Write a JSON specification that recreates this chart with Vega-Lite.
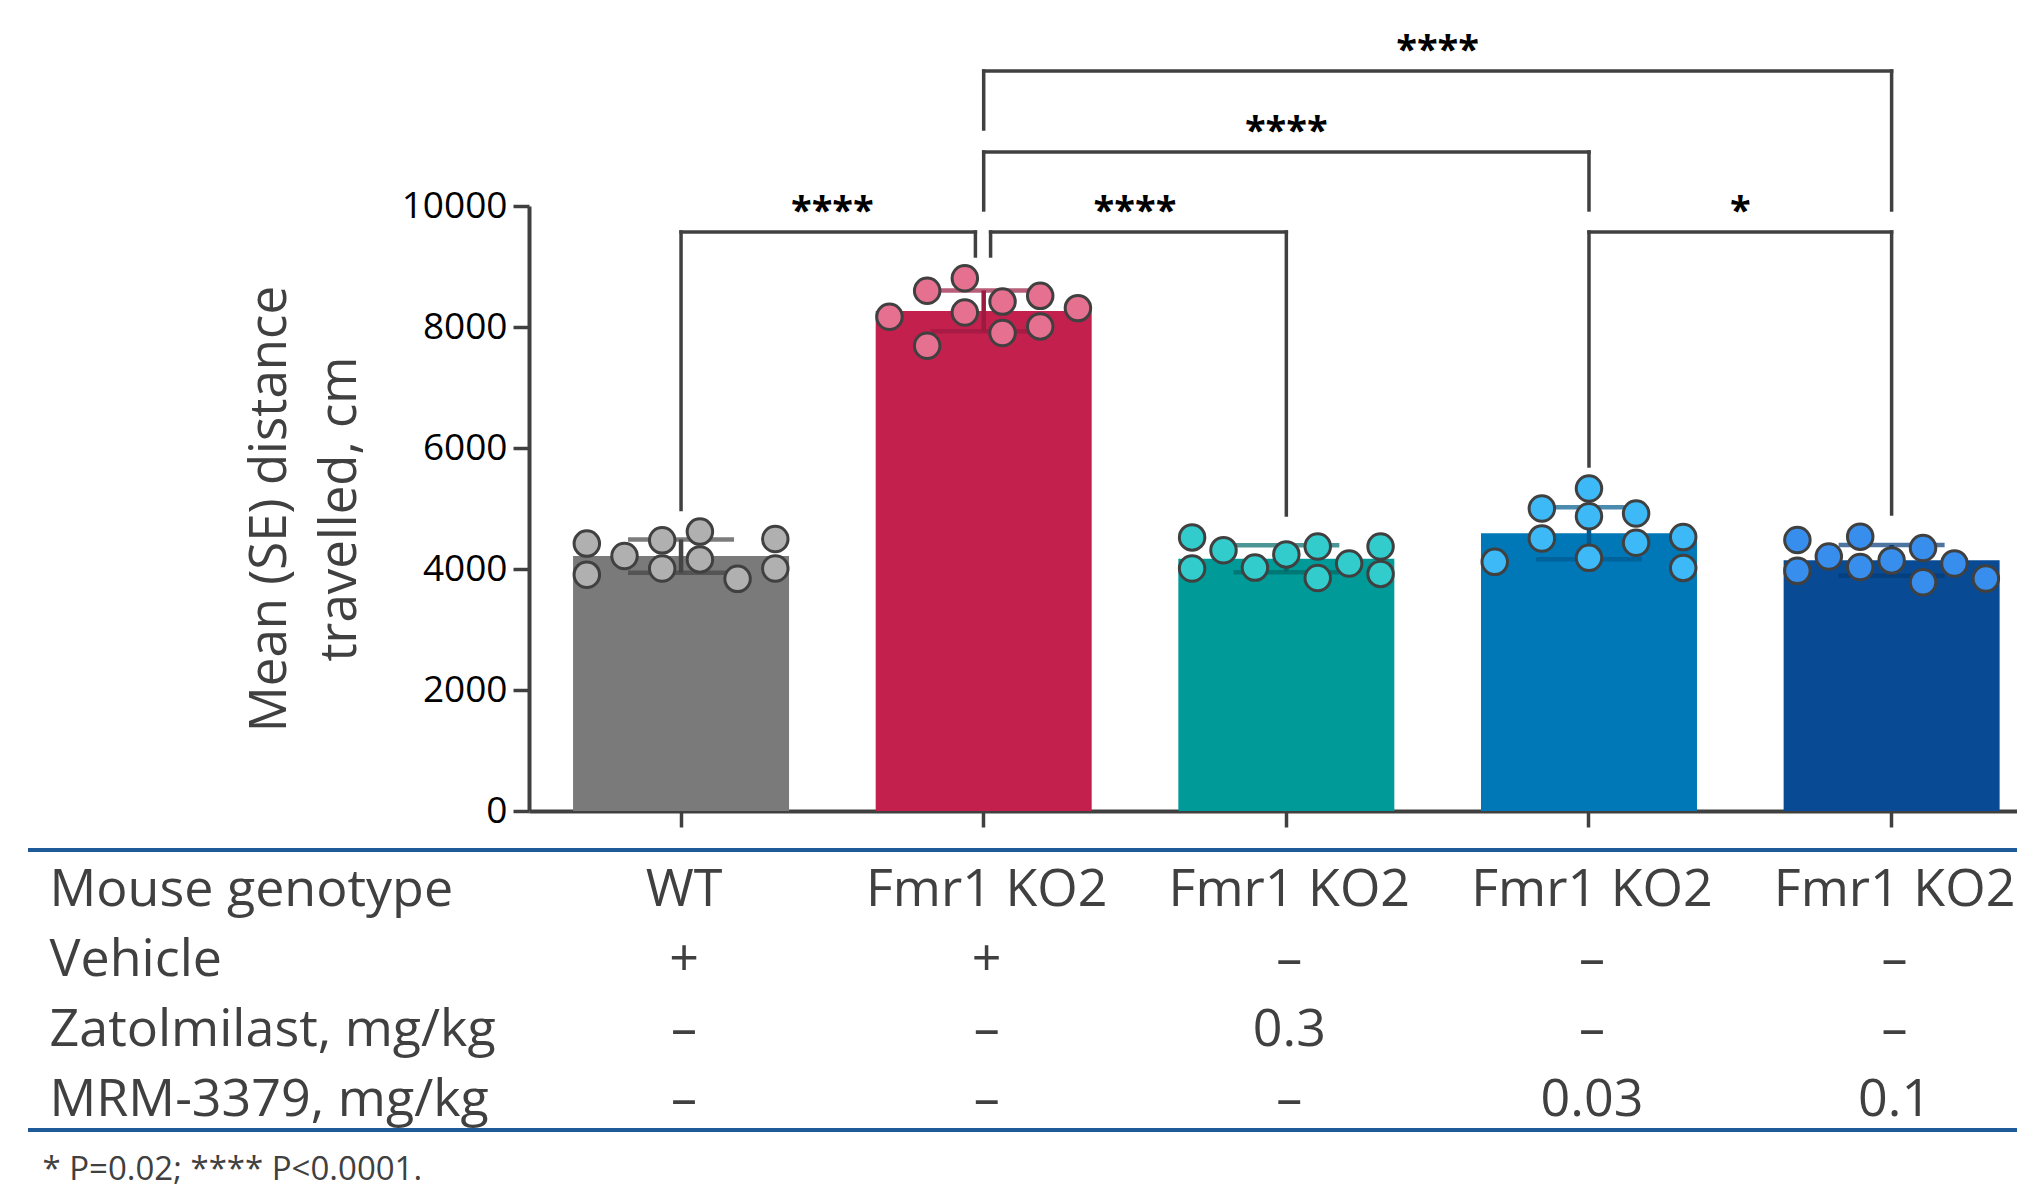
{
  "$schema": "https://vega.github.io/schema/vega-lite/v6.json",
  "width": 1989,
  "height": 605,
  "autosize": {"type": "none"},
  "padding": {"left": 28, "top": 206, "right": 0, "bottom": 384},
  "background": "white",
  "config": {"font": "Open Sans", "view": {"stroke": null}, "axis": {"grid": false}},
  "datasets": {
    "mice": [
      {"group": "WT vehicle", "distance": 4420, "jitter": -0.3114},
      {"group": "WT vehicle", "distance": 3906, "jitter": -0.3114},
      {"group": "WT vehicle", "distance": 4215, "jitter": -0.1868},
      {"group": "WT vehicle", "distance": 4474, "jitter": -0.0623},
      {"group": "WT vehicle", "distance": 4008, "jitter": -0.0623},
      {"group": "WT vehicle", "distance": 4618, "jitter": 0.0623},
      {"group": "WT vehicle", "distance": 4159, "jitter": 0.0623},
      {"group": "WT vehicle", "distance": 3838, "jitter": 0.1868},
      {"group": "WT vehicle", "distance": 4496, "jitter": 0.3114},
      {"group": "WT vehicle", "distance": 4008, "jitter": 0.3114},
      {"group": "KO2 vehicle", "distance": 8170, "jitter": -0.3114},
      {"group": "KO2 vehicle", "distance": 8600, "jitter": -0.1868},
      {"group": "KO2 vehicle", "distance": 7690, "jitter": -0.1868},
      {"group": "KO2 vehicle", "distance": 8805, "jitter": -0.0623},
      {"group": "KO2 vehicle", "distance": 8240, "jitter": -0.0623},
      {"group": "KO2 vehicle", "distance": 8420, "jitter": 0.0623},
      {"group": "KO2 vehicle", "distance": 7900, "jitter": 0.0623},
      {"group": "KO2 vehicle", "distance": 8515, "jitter": 0.1868},
      {"group": "KO2 vehicle", "distance": 8010, "jitter": 0.1868},
      {"group": "KO2 vehicle", "distance": 8312, "jitter": 0.3114},
      {"group": "KO2 zatolmilast 0.3", "distance": 4522, "jitter": -0.3114},
      {"group": "KO2 zatolmilast 0.3", "distance": 4008, "jitter": -0.3114},
      {"group": "KO2 zatolmilast 0.3", "distance": 4311, "jitter": -0.2076},
      {"group": "KO2 zatolmilast 0.3", "distance": 4023, "jitter": -0.1038},
      {"group": "KO2 zatolmilast 0.3", "distance": 4241, "jitter": 0},
      {"group": "KO2 zatolmilast 0.3", "distance": 4372, "jitter": 0.1038},
      {"group": "KO2 zatolmilast 0.3", "distance": 3851, "jitter": 0.1038},
      {"group": "KO2 zatolmilast 0.3", "distance": 4091, "jitter": 0.2076},
      {"group": "KO2 zatolmilast 0.3", "distance": 4372, "jitter": 0.3114},
      {"group": "KO2 zatolmilast 0.3", "distance": 3919, "jitter": 0.3114},
      {"group": "KO2 MRM-3379 0.03", "distance": 4118, "jitter": -0.3114},
      {"group": "KO2 MRM-3379 0.03", "distance": 5000, "jitter": -0.1557},
      {"group": "KO2 MRM-3379 0.03", "distance": 4505, "jitter": -0.1557},
      {"group": "KO2 MRM-3379 0.03", "distance": 5330, "jitter": 0},
      {"group": "KO2 MRM-3379 0.03", "distance": 4872, "jitter": 0},
      {"group": "KO2 MRM-3379 0.03", "distance": 4184, "jitter": 0},
      {"group": "KO2 MRM-3379 0.03", "distance": 4917, "jitter": 0.1557},
      {"group": "KO2 MRM-3379 0.03", "distance": 4434, "jitter": 0.1557},
      {"group": "KO2 MRM-3379 0.03", "distance": 4528, "jitter": 0.3114},
      {"group": "KO2 MRM-3379 0.03", "distance": 4018, "jitter": 0.3114},
      {"group": "KO2 MRM-3379 0.1", "distance": 4480, "jitter": -0.3114},
      {"group": "KO2 MRM-3379 0.1", "distance": 3970, "jitter": -0.3114},
      {"group": "KO2 MRM-3379 0.1", "distance": 4206, "jitter": -0.2076},
      {"group": "KO2 MRM-3379 0.1", "distance": 4535, "jitter": -0.1038},
      {"group": "KO2 MRM-3379 0.1", "distance": 4033, "jitter": -0.1038},
      {"group": "KO2 MRM-3379 0.1", "distance": 4142, "jitter": 0},
      {"group": "KO2 MRM-3379 0.1", "distance": 4347, "jitter": 0.1038},
      {"group": "KO2 MRM-3379 0.1", "distance": 3781, "jitter": 0.1038},
      {"group": "KO2 MRM-3379 0.1", "distance": 4092, "jitter": 0.2076},
      {"group": "KO2 MRM-3379 0.1", "distance": 3842, "jitter": 0.3114}
    ],
    "brackets": [
      {"from": "WT vehicle", "to": "KO2 vehicle", "top": 9570, "lb": 4982, "rb": 9174, "stars": "****", "mid": 0.5, "lo": 0, "ro": -0.0274, "ha": "KO2 vehicle", "hb": "WT vehicle", "ho": -0.0274},
      {"from": "KO2 vehicle", "to": "KO2 zatolmilast 0.3", "top": 9570, "lb": 9174, "rb": 4893, "stars": "****", "mid": 0.5, "lo": 0.0228, "ro": 0, "ha": "KO2 vehicle", "hb": "KO2 zatolmilast 0.3", "ho": 0.0228},
      {"from": "KO2 vehicle", "to": "KO2 MRM-3379 0.03", "top": 10893, "lb": 9935, "rb": 9935, "stars": "****", "mid": 1, "lo": 0, "ro": 0, "ha": "KO2 vehicle", "hb": "KO2 MRM-3379 0.03", "ho": 0},
      {"from": "KO2 vehicle", "to": "KO2 MRM-3379 0.1", "top": 12231, "lb": 11273, "rb": 9935, "stars": "****", "mid": 1.5, "lo": 0, "ro": 0, "ha": "KO2 vehicle", "hb": "KO2 MRM-3379 0.1", "ho": 0},
      {"from": "KO2 MRM-3379 0.03", "to": "KO2 MRM-3379 0.1", "top": 9570, "lb": 5703, "rb": 4909, "stars": "*", "mid": 0.5, "lo": 0, "ro": 0, "ha": "KO2 MRM-3379 0.03", "hb": "KO2 MRM-3379 0.1", "ho": 0}
    ],
    "table": [
      {"group": "WT vehicle", "row": "Mouse genotype", "cell": "WT"},
      {"group": "KO2 vehicle", "row": "Mouse genotype", "cell": "Fmr1 KO2"},
      {"group": "KO2 zatolmilast 0.3", "row": "Mouse genotype", "cell": "Fmr1 KO2"},
      {"group": "KO2 MRM-3379 0.03", "row": "Mouse genotype", "cell": "Fmr1 KO2"},
      {"group": "KO2 MRM-3379 0.1", "row": "Mouse genotype", "cell": "Fmr1 KO2"},
      {"group": "WT vehicle", "row": "Vehicle", "cell": "+"},
      {"group": "KO2 vehicle", "row": "Vehicle", "cell": "+"},
      {"group": "KO2 zatolmilast 0.3", "row": "Vehicle", "cell": "–"},
      {"group": "KO2 MRM-3379 0.03", "row": "Vehicle", "cell": "–"},
      {"group": "KO2 MRM-3379 0.1", "row": "Vehicle", "cell": "–"},
      {"group": "WT vehicle", "row": "Zatolmilast, mg/kg", "cell": "–"},
      {"group": "KO2 vehicle", "row": "Zatolmilast, mg/kg", "cell": "–"},
      {"group": "KO2 zatolmilast 0.3", "row": "Zatolmilast, mg/kg", "cell": "0.3"},
      {"group": "KO2 MRM-3379 0.03", "row": "Zatolmilast, mg/kg", "cell": "–"},
      {"group": "KO2 MRM-3379 0.1", "row": "Zatolmilast, mg/kg", "cell": "–"},
      {"group": "WT vehicle", "row": "MRM-3379, mg/kg", "cell": "–"},
      {"group": "KO2 vehicle", "row": "MRM-3379, mg/kg", "cell": "–"},
      {"group": "KO2 zatolmilast 0.3", "row": "MRM-3379, mg/kg", "cell": "–"},
      {"group": "KO2 MRM-3379 0.03", "row": "MRM-3379, mg/kg", "cell": "0.03"},
      {"group": "KO2 MRM-3379 0.1", "row": "MRM-3379, mg/kg", "cell": "0.1"}
    ]
  },
  "layer": [
    {
      "layer": [
        {
          "data": {"name": "mice"},
          "layer": [
            {
              "mark": {"type": "bar"},
              "encoding": {
                "x": {"field": "group", "type": "nominal", "scale": {"type": "band", "domain": ["WT vehicle", "KO2 vehicle", "KO2 zatolmilast 0.3", "KO2 MRM-3379 0.03", "KO2 MRM-3379 0.1"], "paddingInner": 0.2863, "paddingOuter": 0.9292, "align": 0.9691},
                  "axis": {"title": "* P=0.02; **** P<0.0001.", "labels": false, "domainColor": "#404040", "domainWidth": 4, "domainDash": [1488, 501], "domainDashOffset": 1488, "tickColor": "#404040", "tickWidth": 3.5, "tickSize": 16, "titleFontSize": 33, "titleFontWeight": "normal", "titleColor": "#404040", "titleAnchor": "start", "titleAlign": "left", "titleBaseline": "alphabetic", "titleX": 14, "titleY": 368}},
                "y": {"field": "distance", "type": "quantitative", "aggregate": "mean", "title": ["Mean (SE) distance", "travelled, cm"], "scale": {"domain": [0, 10000], "nice": false, "zero": true},
                  "axis": {"values": [0, 2000, 4000, 6000, 8000, 10000], "format": "d", "offset": -501, "domainColor": "#404040", "domainWidth": 4, "tickColor": "#404040", "tickWidth": 3.5, "tickSize": 16, "labelFontSize": 37, "labelColor": "#000000", "labelPadding": 6, "titleFontSize": 51, "titleFontWeight": "normal", "titleColor": "#404040", "titleLineHeight": 70, "titleAngle": -90, "titleAlign": "center", "titleBaseline": "alphabetic", "titleX": -244, "titleY": 302.5}},
                "color": {"field": "group", "type": "nominal", "scale": {"domain": ["WT vehicle", "KO2 vehicle", "KO2 zatolmilast 0.3", "KO2 MRM-3379 0.03", "KO2 MRM-3379 0.1"], "range": ["#7a7a7a", "#c4204e", "#009b98", "#0077b6", "#084a94"]}, "legend": null}
              }
            },
            {
              "mark": {"type": "errorbar", "extent": "stdev", "ticks": true, "size": 106, "thickness": 4.5},
              "encoding": {
                "x": {"field": "group", "type": "nominal"},
                "y": {"field": "distance", "type": "quantitative", "title": ["Mean (SE) distance", "travelled, cm"]},
                "color": {"field": "group", "type": "nominal", "scale": {"domain": ["WT vehicle", "KO2 vehicle", "KO2 zatolmilast 0.3", "KO2 MRM-3379 0.03", "KO2 MRM-3379 0.1"], "range": ["#444444", "#9b1a40", "#006b68", "#005a8f", "#033a78"]}, "legend": null}
              }
            },
            {
              "mark": {"type": "point", "filled": true, "size": 650, "stroke": "#404040", "strokeWidth": 3, "opacity": 1},
              "encoding": {
                "x": {"field": "group", "type": "nominal"},
                "xOffset": {"field": "jitter", "type": "quantitative", "scale": {"domain": [-0.3569, 0.3569], "nice": false, "zero": false}},
                "y": {"field": "distance", "type": "quantitative", "title": ["Mean (SE) distance", "travelled, cm"]},
                "fill": {"field": "group", "type": "nominal", "scale": {"domain": ["WT vehicle", "KO2 vehicle", "KO2 zatolmilast 0.3", "KO2 MRM-3379 0.03", "KO2 MRM-3379 0.1"], "range": ["#b0b0b0", "#e5708f", "#33cccc", "#3db9f7", "#388eed"]}, "legend": null}
              }
            }
          ],
          "resolve": {"scale": {"color": "independent", "xOffset": "independent"}}
        },
        {
          "data": {"name": "brackets"},
          "layer": [
            {
              "mark": {"type": "rule", "color": "#404040", "strokeWidth": 3.5, "strokeCap": "square"},
              "encoding": {
                "x": {"field": "ha", "type": "nominal"},
                "x2": {"field": "hb"},
                "xOffset": {"field": "ho", "type": "quantitative", "scale": {"domain": [-0.3569, 0.3569], "nice": false, "zero": false}},
                "y": {"field": "top", "type": "quantitative", "title": ["Mean (SE) distance", "travelled, cm"]}
              }
            },
            {
              "mark": {"type": "rule", "color": "#404040", "strokeWidth": 3.5, "strokeCap": "square"},
              "encoding": {
                "x": {"field": "from", "type": "nominal"},
                "xOffset": {"field": "lo", "type": "quantitative", "scale": {"domain": [-0.3569, 0.3569], "nice": false, "zero": false}},
                "y": {"field": "top", "type": "quantitative", "title": ["Mean (SE) distance", "travelled, cm"]},
                "y2": {"field": "lb"}
              }
            },
            {
              "mark": {"type": "rule", "color": "#404040", "strokeWidth": 3.5, "strokeCap": "square"},
              "encoding": {
                "x": {"field": "to", "type": "nominal"},
                "xOffset": {"field": "ro", "type": "quantitative", "scale": {"domain": [-0.3569, 0.3569], "nice": false, "zero": false}},
                "y": {"field": "top", "type": "quantitative", "title": ["Mean (SE) distance", "travelled, cm"]},
                "y2": {"field": "rb"}
              }
            },
            {
              "mark": {"type": "text", "fontSize": 38, "fontWeight": "bold", "color": "#000000", "baseline": "alphabetic", "align": "center", "dy": -8},
              "encoding": {
                "x": {"field": "from", "type": "nominal"},
                "xOffset": {"field": "mid", "type": "quantitative", "scale": {"domain": [-0.3569, 0.3569], "nice": false, "zero": false}},
                "y": {"field": "top", "type": "quantitative", "title": ["Mean (SE) distance", "travelled, cm"]},
                "text": {"field": "stars"}
              }
            }
          ],
          "resolve": {"scale": {"xOffset": "independent"}}
        }
      ],
      "resolve": {"scale": {"color": "independent", "xOffset": "independent"}}
    },
    {
      "data": {"name": "table"},
      "layer": [
        {
          "mark": {"type": "text", "fontSize": 52, "color": "#404040", "baseline": "middle", "align": "center", "dx": 3, "dy": 5},
          "encoding": {
            "x": {"field": "group", "type": "nominal"},
            "y": {"field": "row", "type": "nominal", "scale": {"type": "band", "domain": ["Mouse genotype", "Vehicle", "Zatolmilast, mg/kg", "MRM-3379, mg/kg"], "range": [644, 924], "paddingInner": 0, "paddingOuter": 0},
              "axis": {"orient": "left", "domain": false, "ticks": false, "tickSize": 0, "grid": false, "title": null, "labelAlign": "left", "labelPadding": -21, "labelOffset": 5, "labelFontSize": 52, "labelColor": "#404040", "labelLimit": 0, "labelBaseline": "middle"}},
            "text": {"field": "cell"}
          }
        },
        {
          "mark": {"type": "rule", "color": "#1f5b98", "strokeWidth": 3},
          "encoding": {"y": {"datum": "Mouse genotype", "type": "nominal", "bandPosition": 0}}
        },
        {
          "mark": {"type": "rule", "color": "#1f5b98", "strokeWidth": 3},
          "encoding": {"y": {"datum": "MRM-3379, mg/kg", "type": "nominal", "bandPosition": 1}}
        }
      ]
    }
  ],
  "resolve": {"scale": {"y": "independent", "color": "independent", "xOffset": "independent"}}
}
